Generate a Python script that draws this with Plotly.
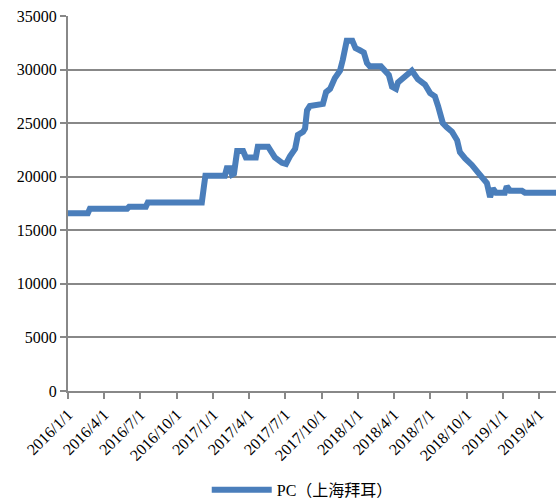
import plotly.graph_objects as go

# PC price series (上海拜耳), yuan/ton
dates = [
    "2016-01-01", "2016-02-20", "2016-02-25", "2016-05-29", "2016-06-03",
    "2016-07-15", "2016-07-20", "2016-12-03", "2016-12-08", "2016-12-12",
    "2017-01-30", "2017-02-04", "2017-02-12", "2017-02-17", "2017-02-22",
    "2017-03-02", "2017-03-17", "2017-03-24", "2017-04-18", "2017-04-23",
    "2017-05-19", "2017-05-29", "2017-06-05", "2017-06-23", "2017-07-03",
    "2017-07-13", "2017-07-26", "2017-08-02", "2017-08-15", "2017-08-20",
    "2017-08-25", "2017-09-01", "2017-09-14", "2017-10-04", "2017-10-12",
    "2017-10-22", "2017-11-03", "2017-11-16", "2017-11-23", "2017-12-01",
    "2017-12-03", "2017-12-17", "2017-12-25", "2018-01-05", "2018-01-15",
    "2018-01-23", "2018-01-30", "2018-02-27", "2018-03-09", "2018-03-19",
    "2018-03-27", "2018-04-06", "2018-04-11", "2018-04-29", "2018-05-11",
    "2018-05-16", "2018-05-31", "2018-06-18", "2018-07-01", "2018-07-13",
    "2018-07-21", "2018-08-02", "2018-08-12", "2018-08-25", "2018-09-07",
    "2018-09-14", "2018-09-27", "2018-10-14", "2018-11-03", "2018-11-21",
    "2018-11-26", "2018-11-29", "2018-12-06", "2018-12-14", "2019-01-05",
    "2019-01-10", "2019-01-18", "2019-02-17", "2019-02-25", "2019-05-14",
]
prices = [
    16600, 16600, 17000, 17000, 17200,
    17200, 17600, 17600, 19000, 20100,
    20100, 20800, 20800, 20200, 20300,
    22400, 22400, 21800, 21800, 22800,
    22800, 22300, 21800, 21300, 21200,
    21900, 22600, 23900, 24200, 24500,
    26200, 26600, 26700, 26800, 27900,
    28200, 29200, 29900, 30900, 32500,
    32700, 32700, 32000, 31800, 31600,
    30600, 30300, 30300, 29800, 29500,
    28400, 28200, 28800, 29400, 29800,
    29900, 29100, 28600, 27800, 27500,
    26600, 25000, 24600, 24200, 23400,
    22300, 21700, 21100, 20200, 19400,
    18600, 18100, 18900, 18500, 18500,
    19100, 18700, 18700, 18500, 18500,
]

tick_dates = ["2016-01-01", "2016-04-01", "2016-07-01", "2016-10-01",
              "2017-01-01", "2017-04-01", "2017-07-01", "2017-10-01",
              "2018-01-01", "2018-04-01", "2018-07-01", "2018-10-01",
              "2019-01-01", "2019-04-01"]
tick_labels = ["2016/1/1", "2016/4/1", "2016/7/1", "2016/10/1",
               "2017/1/1", "2017/4/1", "2017/7/1", "2017/10/1",
               "2018/1/1", "2018/4/1", "2018/7/1", "2018/10/1",
               "2019/1/1", "2019/4/1"]
series_name = "PC（上海拜耳）"

font_family = "Liberation Serif, Noto Sans CJK SC, serif"
grid_color = "#888888"

fig = go.Figure()
fig.add_trace(go.Scatter(
    x=dates, y=prices, mode="lines", name=series_name,
    line=dict(color="#4A7EBB", width=6, shape="linear"),
))

fig.update_layout(
    width=556, height=503,
    margin=dict(l=68, r=0, t=16, b=112, autoexpand=False),
    paper_bgcolor="white", plot_bgcolor="white",
    font=dict(family=font_family, size=16, color="#000000"),
    showlegend=True,
    legend=dict(orientation="h", x=0.48, xanchor="center",
                yref="container", y=0.026, yanchor="middle",
                font=dict(size=16), itemwidth=60),
    xaxis=dict(
        type="date", range=["2016-01-01", "2019-05-14"],
        tickvals=tick_dates, ticktext=tick_labels, tickangle=-45,
        showgrid=False, showline=True, linecolor=grid_color, linewidth=2,
        ticks="outside", ticklen=6, tickcolor=grid_color, tickwidth=2,
        tickfont=dict(size=16), zeroline=False, automargin=False,
    ),
    yaxis=dict(
        range=[0, 35000], tickvals=list(range(0, 35001, 5000)),
        tickformat="d",
        showgrid=True, gridcolor=grid_color, gridwidth=2,
        showline=True, linecolor=grid_color, linewidth=2,
        ticks="outside", ticklen=6, tickcolor=grid_color, tickwidth=2,
        tickfont=dict(size=16), zeroline=False, ticksuffix=" ",
        automargin=False,
    ),
)

fig.write_html("out.html")
